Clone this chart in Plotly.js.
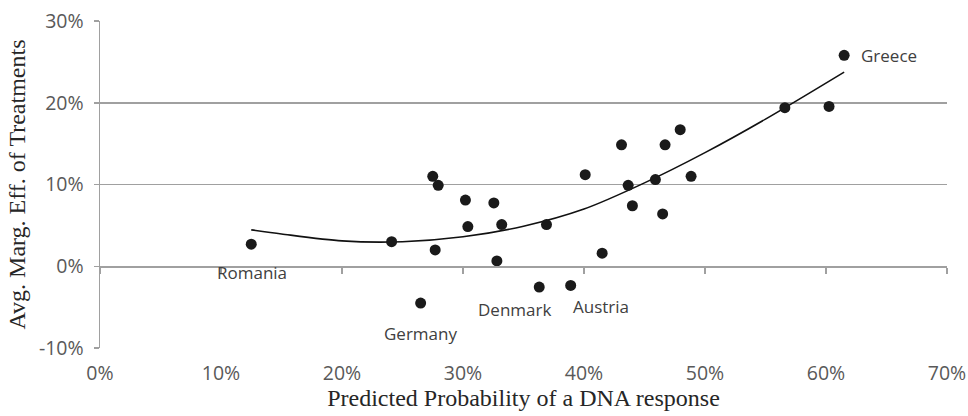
<!DOCTYPE html>
<html>
<head>
<meta charset="utf-8">
<script src="https://cdn.plot.ly/plotly-3.0.1.min.js"></script>
<style>html,body{margin:0;padding:0;background:#fff;}#chart{width:968px;height:416px;}</style>
</head>
<body>
<div id="chart"></div>
<script>
// Data (percent units)
const probDNA = [12.5, 24.1, 26.5, 27.5, 27.7, 27.95, 30.2, 30.4, 32.55, 32.8, 33.2, 36.3, 36.9, 38.9, 40.1, 41.5, 43.1, 43.65, 44.0, 45.9, 46.5, 46.7, 47.95, 48.85, 56.6, 60.25, 61.5];
const margEff = [2.7, 3.0, -4.5, 11.0, 2.0, 9.9, 8.1, 4.85, 7.75, 0.65, 5.1, -2.55, 5.1, -2.35, 11.2, 1.6, 14.85, 9.9, 7.4, 10.6, 6.4, 14.85, 16.7, 11.0, 19.4, 19.55, 25.8];
const pointLabels = ['Romania', '', 'Germany', '', '', '', '', '', '', '', '', 'Denmark', '', 'Austria', '', '', '', '', '', '', '', '', '', '', '', '', 'Greece'];

// Trend line
const trendX = [12.5, 15, 20, 25, 30, 35, 40, 45, 50, 55, 61.5];
const trendY = [4.45, 3.95, 3.1, 3.0, 3.6, 4.9, 7.0, 10.2, 13.9, 18.0, 23.75];

const xTickVals = [0, 10, 20, 30, 40, 50, 60, 70];
const xTickText = ['0%', '10%', '20%', '30%', '40%', '50%', '60%', '70%'];
const yTickVals = [-10, 0, 10, 20, 30];
const yTickText = ['-10%', '0%', '10%', '20%', '30%'];

// Label placement (styles, not data)
const labelOffsets = {
  Romania: {xshift: 1, yshift: -28, xanchor: 'center'},
  Germany: {xshift: 0, yshift: -30, xanchor: 'center'},
  Denmark: {xshift: -25, yshift: -22, xanchor: 'center'},
  Austria: {xshift: 30, yshift: -21, xanchor: 'center'},
  Greece: {xshift: 15, yshift: 0, xanchor: 'left'}
};

const gridCol = '#a0a0a0';
const tickFont = {family: 'Open Sans, sans-serif', size: 19.5, color: '#595959'};
const titleFont = {family: 'Liberation Serif, serif', size: 24, color: '#262626'};

const traces = [
  {
    x: trendX, y: trendY, type: 'scatter', mode: 'lines',
    line: {color: '#111', width: 1.6, shape: 'spline', smoothing: 0.8},
    hoverinfo: 'skip', showlegend: false
  },
  {
    x: probDNA, y: margEff, type: 'scatter', mode: 'markers',
    marker: {color: '#1a1a1a', size: 11},
    showlegend: false
  }
];

const annotations = [];
pointLabels.forEach((name, i) => {
  if (!name) return;
  const o = labelOffsets[name];
  annotations.push({
    x: probDNA[i], y: margEff[i], xref: 'x', yref: 'y',
    text: name, showarrow: false,
    xanchor: o.xanchor, yanchor: 'middle',
    xshift: o.xshift, yshift: o.yshift,
    font: {family: 'Open Sans, sans-serif', size: 17, color: '#404040'}
  });
});

const layout = {
  width: 968, height: 416,
  margin: {l: 100, r: 21, t: 21, b: 68},
  paper_bgcolor: '#fff', plot_bgcolor: '#fff',
  showlegend: false,
  xaxis: {
    range: [0, 70], tickvals: xTickVals, ticktext: xTickText,
    showgrid: false, zeroline: false, showline: false, ticks: '',
    tickfont: tickFont, ticklabelstandoff: 11,
    title: {text: 'Predicted Probability of a DNA response', font: titleFont, standoff: 3}
  },
  xaxis2: {
    overlaying: 'x', matches: 'x', range: [0, 70], anchor: 'free', position: 0.25,
    tickvals: xTickVals, showticklabels: false,
    showgrid: false, zeroline: false, showline: true, linecolor: gridCol, linewidth: 1.5,
    ticks: 'outside', ticklen: 6, tickcolor: gridCol, tickwidth: 1.5
  },
  yaxis: {
    range: [-10, 30], tickvals: yTickVals, ticktext: yTickText,
    showgrid: true, gridcolor: gridCol, gridwidth: 1.5, zeroline: false,
    showline: true, linecolor: gridCol, linewidth: 1.5,
    ticks: 'outside', ticklen: 5, tickcolor: gridCol, tickwidth: 1.5,
    tickfont: tickFont, ticklabelstandoff: 6,
    title: {text: 'Avg. Marg. Eff. of Treatments', font: titleFont, standoff: 6}
  },
  annotations: annotations
};

// invisible trace to anchor xaxis2
traces.push({x: [probDNA[0]], y: [margEff[0]], xaxis: 'x2', type: 'scatter', mode: 'markers', marker: {opacity: 0}, hoverinfo: 'skip', showlegend: false});

Plotly.newPlot('chart', traces, layout, {staticPlot: true});
</script>
</body>
</html>
